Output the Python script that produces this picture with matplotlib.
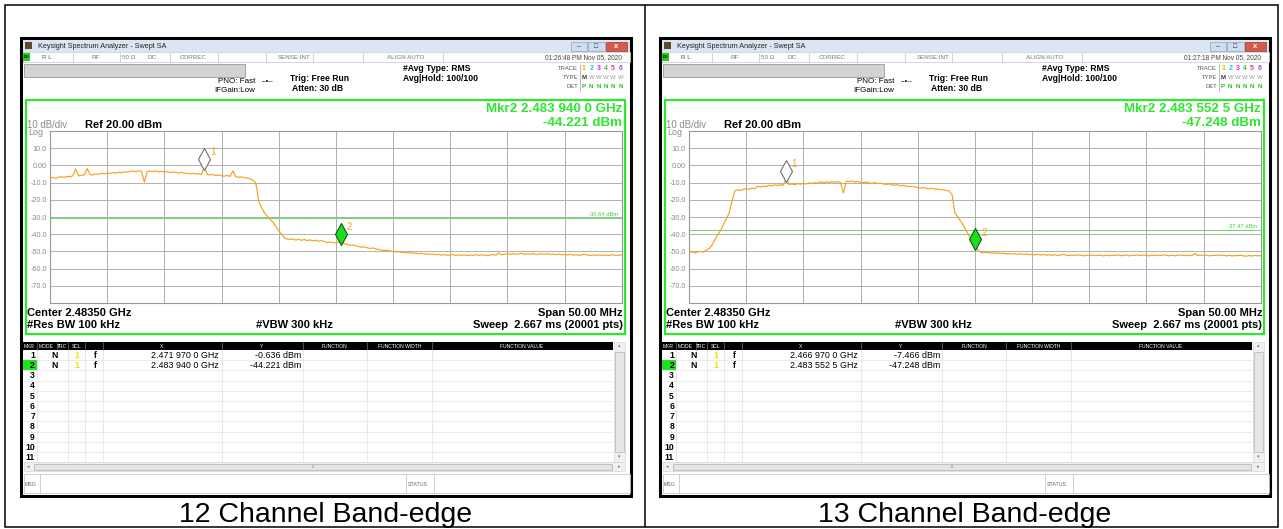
import numpy as np
import matplotlib
matplotlib.use("Agg")
import matplotlib.pyplot as plt
from matplotlib.patches import Rectangle
from matplotlib import transforms

plt.rcParams['font.family'] = ['Liberation Sans', 'DejaVu Sans']

# ---------------- data ----------------
START_MHZ = 2458.5
STOP_MHZ = 2508.5
N_POINTS = 201
REF_LEVEL = 20.0
DB_PER_DIV = 10.0

CH12_TRACE = [
    -7.3, -6.9, -7.5, -6.8,
    -6.6, -7.0, -6.4, -6.7,
    -5.9, -2.2, -6.1, -5.7,
    -5.5, -1.8, -5.3, -5.6,
    -4.9, -5.2, -4.6, -4.9,
    -4.4, -4.7, -4.2, -4.5,
    -3.9, -4.3, -3.7, -4.0,
    -3.5, -3.2, -3.7, -3.1,
    -3.4, -9.6, -3.6, -3.3,
    -3.5, -3.2, -3.8, -3.4,
    -3.9, -3.6, -4.2, -3.8,
    -4.1, -4.5, -4.0, -4.6,
    -4.4, -4.9, -4.5, -5.1,
    -4.8, -5.3, -0.7, -5.2,
    -5.6, -5.3, -5.9, -5.6,
    -6.0, -6.3, -5.8, -6.4,
    -3.2, -6.6, -6.9, -6.7,
    -7.1, -7.4, -7.9, -8.6,
    -10.2, -20.8, -24.5, -27.5,
    -29.5, -31.5, -33.0, -35.5,
    -38.0, -40.0, -42.0, -42.8,
    -43.1, -42.7, -43.4, -43.0,
    -43.5, -43.1, -43.7, -43.3,
    -43.9, -43.5, -44.1, -43.7,
    -44.3, -44.8, -44.5, -45.0,
    -45.0, -44.6, -44.2, -45.6,
    -46.0, -46.5, -46.2, -46.9,
    -47.2, -47.6, -47.3, -47.9,
    -48.3, -48.0, -48.6, -48.9,
    -49.2, -49.5, -49.3, -49.8,
    -50.0, -50.3, -50.1, -50.6,
    -50.5, -50.9, -50.7, -51.1,
    -51.0, -51.3, -51.1, -51.6,
    -51.4, -51.8, -51.5, -52.0,
    -51.7, -52.2, -51.9, -52.3,
    -52.1, -51.8, -52.4, -52.0,
    -52.3, -52.0, -52.5, -52.1,
    -52.4, -51.9, -52.3, -52.0,
    -52.1, -52.5, -52.2, -51.8,
    -52.2, -50.9, -52.0, -51.6,
    -51.3, -51.8, -51.2, -51.7,
    -51.5, -51.1, -51.8, -51.4,
    -51.6, -51.2, -51.9, -51.5,
    -51.4, -51.7, -51.3, -51.8,
    -51.5, -51.9, -51.6, -52.0,
    -51.8, -52.1, -51.7, -52.2,
    -51.9, -52.3, -52.0, -51.7,
    -52.1, -52.4, -52.0, -52.3,
    -52.0, -52.4, -52.1, -52.5,
    -52.2, -51.9, -52.4, -52.1,
    -52.1,
]

CH13_TRACE = [
    -50.6, -50.2, -50.9, -50.4,
    -50.0, -50.5, -49.2, -48.5,
    -46.5, -43.5, -40.5, -38.0,
    -34.5, -31.3, -27.8, -21.0,
    -14.8, -14.2, -14.6, -13.9,
    -13.5, -13.9, -13.2, -13.6,
    -12.1, -12.6, -12.0, -12.4,
    -11.5, -11.9, -11.3, -11.7,
    -11.2, -11.6, -7.5, -11.1,
    -10.8, -11.2, -10.6, -10.9,
    -10.5, -10.8, -10.2, -10.6,
    -10.0, -10.3, -9.5, -10.1,
    -9.6, -9.9, -9.4, -9.8,
    -9.5, -9.8, -16.0, -9.2,
    -9.4, -9.1, -9.6, -9.3,
    -9.8, -10.1, -9.7, -10.2,
    -10.4, -10.0, -10.6, -10.3,
    -10.8, -11.1, -10.7, -11.3,
    -11.5, -11.2, -11.8, -11.6,
    -12.0, -12.4, -12.1, -12.6,
    -12.8, -13.2, -12.9, -13.4,
    -13.6, -13.3, -13.9, -13.7,
    -14.2, -14.0, -14.6, -14.9,
    -16.9, -27.5, -30.0, -32.3,
    -35.0, -38.0, -41.0, -44.0,
    -46.5, -49.0, -50.4, -50.8,
    -50.5, -51.0, -50.7, -51.2,
    -50.9, -51.3, -51.0, -51.5,
    -51.2, -51.6, -51.3, -51.7,
    -51.4, -51.8, -51.5, -51.9,
    -51.6, -52.0, -51.7, -52.1,
    -51.8, -52.2, -51.9, -52.3,
    -52.0, -52.4, -52.1, -51.7,
    -52.2, -52.5, -52.1, -52.4,
    -52.0, -52.3, -52.6, -52.2,
    -52.4, -52.1, -52.5, -52.2,
    -52.3, -52.6, -52.1, -52.5,
    -52.2, -52.4, -52.0, -52.5,
    -52.3, -52.1, -52.6, -52.2,
    -52.4, -52.0, -52.5, -52.1,
    -52.3, -52.6, -52.2, -52.5,
    -52.1, -52.4, -52.0, -52.3,
    -52.5, -52.2, -52.6, -52.3,
    -52.1, -52.4, -52.2, -52.5,
    -52.3, -51.2, -52.4, -52.1,
    -52.5, -52.2, -52.6, -52.3,
    -52.4, -52.1, -52.5, -52.2,
    -52.6, -52.3, -52.7, -52.4,
    -52.5, -52.2, -52.6, -52.8,
    -52.4, -52.7, -52.3, -52.6,
    -52.5,
]

CH12_MARKER_MHZ = [2471.970, 2483.940]
CH12_MARKER_DBM = [-0.636, -44.221]
CH12_MARKER_X_TEXT = ["2.471 970 0 GHz", "2.483 940 0 GHz"]
CH12_MARKER_Y_TEXT = ["-0.636 dBm", "-44.221 dBm"]
CH12_MKR2_HEAD = ["Mkr2 2.483 940 0 GHz", "-44.221 dBm"]

CH13_MARKER_MHZ = [2466.970, 2483.5525]
CH13_MARKER_DBM = [-7.466, -47.248]
CH13_MARKER_X_TEXT = ["2.466 970 0 GHz", "2.483 552 5 GHz"]
CH13_MARKER_Y_TEXT = ["-7.466 dBm", "-47.248 dBm"]
CH13_MKR2_HEAD = ["Mkr2 2.483 552 5 GHz", "-47.248 dBm"]

DISPLAY_LINES = [-30.64, -37.47]
TIMESTAMPS = ["01:26:48 PM Nov 05, 2020", "01:27:18 PM Nov 05, 2020"]
CAPTIONS = ["12 Channel Band-edge", "13 Channel Band-edge"]

Y_TICKS = [10, 0, -10, -20, -30, -40, -50, -60, -70]
Y_TICK_LABELS = ["10.0", "0.00", "-10.0", "-20.0", "-30.0", "-40.0", "-50.0", "-60.0", "-70.0"]

TABLE_HEADERS = ["MKR", "MODE", "TRC", "SCL", "X", "Y", "FUNCTION", "FUNCTION WIDTH", "FUNCTION VALUE"]

# ---------------- figure ----------------
W, H = 1283, 529
fig = plt.figure(figsize=(W / 100, H / 100), dpi=100)
bg = fig.add_axes([0, 0, 1, 1])
bg.set_xlim(0, W)
bg.set_ylim(H, 0)
bg.axis('off')

GREEN = '#2ee62e'
ORANGE = '#f5a21e'


def rect(x0, y0, x1, y1, fc='none', ec='none', lw=0.7, z=1):
    bg.add_patch(Rectangle((x0, y0), x1 - x0, y1 - y0, facecolor=fc,
                           edgecolor=ec, linewidth=lw, zorder=z))


def line(x0, y0, x1, y1, color='k', lw=0.7, z=2):
    bg.plot([x0, x1], [y0, y1], color=color, lw=lw, zorder=z, solid_capstyle='butt')


def txt(x, y, s, size=5, color='black', ha='left', weight='normal', z=5, va='center'):
    bg.text(x, y, s, fontsize=size, color=color, ha=ha, va=va,
            fontweight=weight, zorder=z)


# outer table borders
rect(5, 5, 1278, 527, ec='black', lw=1.1, z=1)
line(645, 5, 645, 527, lw=1.1)


def draw_panel(dx, trace, mk_f, mk_v, mk_xt, mk_yt, head, dline, tstamp, caption):
    X = lambda x: x + dx
    # screenshot frame
    rect(X(21), 38, X(631), 496, fc='white', ec='black', lw=2.2, z=1)
    # title bar
    rect(X(23), 39.5, X(629.5), 52, fc='#dce6f3', z=2)
    rect(X(25), 42, X(32), 49, fc='#5b4a2c', z=3)
    txt(X(38), 46, 'Keysight Spectrum Analyzer - Swept SA', size=5.2, color='#222222')
    rect(X(571), 41.5, X(587), 50.5, fc='#cfdcee', ec='#8ea3c2', lw=0.5, z=3)
    rect(X(588), 41.5, X(605), 50.5, fc='#cfdcee', ec='#8ea3c2', lw=0.5, z=3)
    rect(X(606), 41.5, X(627), 50.5, fc='#d65a4c', ec='#9a3a30', lw=0.5, z=3)
    txt(X(579), 46.5, '–', size=5, color='#333366', ha='center')
    txt(X(596.5), 46, '□', size=5, color='#333366', ha='center')
    txt(X(616.5), 46, 'x', size=5.5, color='white', ha='center', weight='bold')
    # status row
    rect(X(23), 52, X(629.5), 62, fc='white', ec='#c8c8c8', lw=0.5, z=2)
    rect(X(23), 53, X(30), 61, fc='#22cc22', z=3)
    txt(X(26.5), 57, 'LXI', size=2.5, color='black', ha='center', weight='bold')
    for xd in [73, 120, 170, 218, 266, 313, 363, 443]:
        line(X(xd), 52.5, X(xd), 61.5, color='#bdbdbd', lw=0.5, z=3)
    txt(X(42), 57.3, 'R L', size=4.5, color='#555555')
    txt(X(96), 57.3, 'RF', size=4.5, color='#777777', ha='center')
    txt(X(122), 57.3, '50 Ω', size=4.5, color='#777777')
    txt(X(148), 57.3, 'DC', size=4.5, color='#777777')
    txt(X(180), 57.3, 'CORREC', size=4.5, color='#777777')
    txt(X(278), 57.3, 'SENSE:INT', size=4.5, color='#777777')
    txt(X(387), 57.3, 'ALIGN AUTO', size=4.5, color='#777777')
    txt(X(622), 57.3, tstamp, size=4.7, color='#444444', ha='right')
    # gray bar
    rect(X(24), 64, X(245), 77, fc='#d3d3d3', ec='#9a9a9a', lw=0.6, z=2)
    # settings
    txt(X(255), 81.5, 'PNO: Fast', size=5.8, ha='right')
    txt(X(255), 90.5, 'IFGain:Low', size=5.8, ha='right')
    txt(X(268), 81, '--•--', size=5, ha='center')
    txt(X(290), 78.5, 'Trig: Free Run', size=6.2, weight='bold')
    txt(X(292), 88.5, 'Atten: 30 dB', size=6.2, weight='bold')
    txt(X(403), 68.5, '#Avg Type: RMS', size=6.2, weight='bold')
    txt(X(403), 78.5, 'Avg|Hold: 100/100', size=6.2, weight='bold')
    txt(X(578), 68.5, 'TRACE', size=4.2, color='#555555', ha='right')
    txt(X(578), 77.5, 'TYPE', size=4.2, color='#555555', ha='right')
    txt(X(578), 86.5, 'DET', size=4.2, color='#555555', ha='right')
    line(X(580), 64, X(580), 91, color='#a0a0a0', lw=0.5)
    trace_cols = ['#f0b000', '#1cc6e6', '#e020d8', '#3cc040', '#e83a6a', '#8a5ae8']
    for i, c in enumerate(trace_cols):
        xx = X(584 + i * 7.3)
        txt(xx, 68.5, str(i + 1), size=5, color=c, ha='center', weight='bold')
        txt(xx, 77.5, 'M' if i == 0 else 'W', size=4.3,
            color='#333333' if i == 0 else '#999999', ha='center',
            weight='bold' if i == 0 else 'normal')
        txt(xx, 86.5, 'P' if i == 0 else 'N', size=4.5, color='#22bb22', ha='center', weight='bold')
    # green measurement box
    rect(X(25.5), 99.5, X(625), 334, ec=GREEN, lw=1.6, z=3)
    txt(X(622), 111.5, head[0], size=9.6, color=GREEN, ha='right', weight='bold', va='baseline')
    txt(X(622), 126.5, head[1], size=9.6, color=GREEN, ha='right', weight='bold', va='baseline')
    txt(X(27), 125.5, '10 dB/div', size=6.9, color='#8a8a8a')
    txt(X(85), 124.5, 'Ref 20.00 dBm', size=8, weight='bold')
    txt(X(28), 132.5, 'Log', size=6.4, color='#8a8a8a')
    txt(X(27), 312.5, 'Center 2.48350 GHz', size=8, weight='bold')
    txt(X(27), 325.5, '#Res BW 100 kHz', size=8, weight='bold')
    txt(X(333), 325.5, '#VBW 300 kHz', size=8, weight='bold', ha='right')
    txt(X(623), 312.5, 'Span 50.00 MHz', size=8, weight='bold', ha='right')
    txt(X(623), 325.5, 'Sweep  2.667 ms (20001 pts)', size=8, weight='bold', ha='right')

    # ---- table ----
    cols = [22.5, 37, 68, 85, 103, 221.7, 303, 367, 432, 613]
    rect(X(22.5), 342, X(613), 350, fc='black', z=2)
    head_x = [29, 46.5, 62.5, 77, 162, 262, 335, 400, 522]
    for hx, ht in zip(head_x, TABLE_HEADERS):
        txt(X(hx), 346.2, ht, size=3.6, color='white', ha='center')
    for cx in [36.5, 56.5, 68, 85, 103, 221.7, 303, 367, 432]:
        line(X(cx), 342, X(cx), 350, color='#707070', lw=0.5, z=3)
    row_h = 10.2
    y_top = 350
    for r in range(11):
        yb = y_top + (r + 1) * row_h
        line(X(22.5), yb, X(613), yb, color='#e4e4e4', lw=0.5, z=2)
    for cx in cols[1:-1]:
        line(X(cx), 350, X(cx), y_top + 11 * row_h, color='#e0e0e0', lw=0.5, z=2)
    rect(X(22.5), y_top + row_h, X(36.5), y_top + 2 * row_h, fc='#1ee21e', z=2)
    for r in range(11):
        yc = y_top + (r + 0.5) * row_h + 0.3
        txt(X(35), yc, str(r + 1), size=6.2, weight='bold', ha='right')
    for i in range(2):
        yc = y_top + (i + 0.5) * row_h + 0.3
        txt(X(55), yc, 'N', size=6.2, weight='bold', ha='center')
        txt(X(77), yc, '1', size=6.2, weight='bold', ha='center', color='#f2e000')
        txt(X(95), yc, 'f', size=6.2, weight='bold', ha='center')
        txt(X(219), yc, mk_xt[i], size=6.4, ha='right')
        txt(X(301), yc, mk_yt[i], size=6.4, ha='right')
    # vertical scrollbar
    rect(X(613.5), 342, X(625), 462, fc='#f0f0f0', ec='#d0d0d0', lw=0.4, z=2)
    rect(X(615), 352, X(624), 452, fc='#e6e6e6', ec='#b4b4b4', lw=0.5, z=3)
    txt(X(619.3), 346, '▴', size=3.5, color='#777777', ha='center')
    txt(X(619.3), 457, '▾', size=3.5, color='#777777', ha='center')
    # horizontal scrollbar
    rect(X(23.5), 462, X(625), 471, fc='#f0f0f0', ec='#d0d0d0', lw=0.4, z=2)
    rect(X(34), 463.5, X(612), 469.5, fc='#e4e4e4', ec='#b0b0b0', lw=0.5, z=3)
    txt(X(28.5), 466.5, '◂', size=3.5, color='#777777', ha='center')
    txt(X(619.5), 466.5, '▸', size=3.5, color='#777777', ha='center')
    txt(X(313), 466.5, 'III', size=3, color='#888888', ha='center')
    # message row
    rect(X(23.5), 474, X(629.5), 493, fc='white', ec='#bdbdbd', lw=0.5, z=2)
    line(X(40), 474, X(40), 493, color='#bdbdbd', lw=0.5)
    line(X(406), 474, X(406), 493, color='#bdbdbd', lw=0.5)
    line(X(434), 474, X(434), 493, color='#bdbdbd', lw=0.5)
    txt(X(24.5), 484, 'MSG', size=3.8, color='#666666')
    txt(X(408), 484, 'STATUS', size=3.8, color='#666666')
    # caption
    txt(X(326), 521.5, caption, size=20.5, ha='center', va='baseline')

    # ---- spectrum axes ----
    gx0, gx1, gy0, gy1 = X(50), X(621.7), 131, 303
    ax = fig.add_axes([gx0 / W, 1 - gy1 / H, (gx1 - gx0) / W, (gy1 - gy0) / H])
    ax.set_facecolor('white')
    ax.set_xlim(START_MHZ, STOP_MHZ)
    ax.set_ylim(REF_LEVEL - 10 * DB_PER_DIV, REF_LEVEL)
    ax.set_xticks(np.linspace(START_MHZ, STOP_MHZ, 11))
    ax.set_xticklabels([])
    ax.set_yticks(Y_TICKS)
    ax.set_yticklabels(Y_TICK_LABELS, fontsize=5.2, color='#8a8a8a')
    ax.tick_params(length=0, pad=2.2)
    ax.grid(True, color='#b2b2b2', lw=0.75)
    ax.set_axisbelow(True)
    for s in ax.spines.values():
        s.set_color('#9a9a9a')
        s.set_linewidth(0.8)
    freqs = np.linspace(START_MHZ, STOP_MHZ, N_POINTS)
    ax.plot(freqs, trace, color=ORANGE, lw=0.85, zorder=3)
    ax.axhline(dline, color='#5fe05f', lw=0.7, zorder=2)
    ax.text(STOP_MHZ - 0.3, dline + 0.6, f"{dline:.2f} dBm", fontsize=4.2,
            color='#45d045', ha='right', va='bottom')
    tr = transforms.offset_copy(ax.transData, fig=fig, x=0, y=7.5, units='dots')
    trl = transforms.offset_copy(ax.transData, fig=fig, x=8.5, y=14, units='dots')
    styles = [('white', '#6f6f6f'), ('#1fdc1f', '#0e5e0e')]
    for i in range(2):
        ax.plot([mk_f[i]], [mk_v[i]], marker='d', ms=11, mfc=styles[i][0],
                mec=styles[i][1], mew=0.8, transform=tr, zorder=5, clip_on=False)
        ax.text(mk_f[i], mk_v[i], str(i + 1), transform=trl, fontsize=7,
                color=ORANGE, ha='center', va='center', zorder=6)
    return ax


draw_panel(0, CH12_TRACE, CH12_MARKER_MHZ, CH12_MARKER_DBM, CH12_MARKER_X_TEXT,
           CH12_MARKER_Y_TEXT, CH12_MKR2_HEAD, DISPLAY_LINES[0], TIMESTAMPS[0], CAPTIONS[0])
draw_panel(639, CH13_TRACE, CH13_MARKER_MHZ, CH13_MARKER_DBM, CH13_MARKER_X_TEXT,
           CH13_MARKER_Y_TEXT, CH13_MKR2_HEAD, DISPLAY_LINES[1], TIMESTAMPS[1], CAPTIONS[1])

fig.savefig('out.png', dpi=100)
